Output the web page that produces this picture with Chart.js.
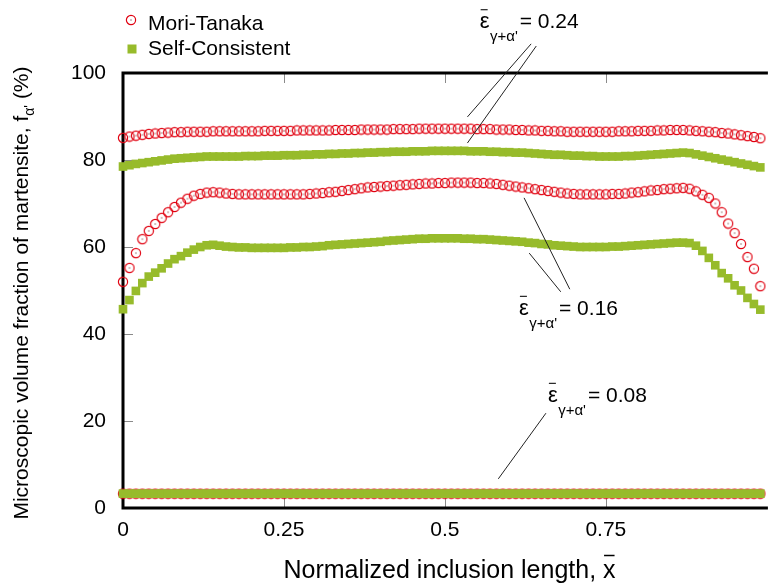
<!DOCTYPE html>
<html>
<head>
<meta charset="utf-8">
<script src="https://cdn.jsdelivr.net/npm/chart.js@4"></script>
<style>
html, body { margin: 0; padding: 0; background: #fff; overflow: hidden; }
canvas { display: block; }
</style>
</head>
<body>
<canvas id="grafica" width="769" height="587"></canvas>
<script>
// ===============================
// DATA
// ===============================
const xVals = [
  0.00, 0.01, 0.02, 0.03, 0.04, 0.05, 0.06, 0.07, 0.08, 0.09,
  0.10, 0.11, 0.12, 0.13, 0.14, 0.15, 0.16, 0.17, 0.18, 0.19,
  0.20, 0.21, 0.22, 0.23, 0.24, 0.25, 0.26, 0.27, 0.28, 0.29,
  0.30, 0.31, 0.32, 0.33, 0.34, 0.35, 0.36, 0.37, 0.38, 0.39,
  0.40, 0.41, 0.42, 0.43, 0.44, 0.45, 0.46, 0.47, 0.48, 0.49,
  0.50, 0.51, 0.52, 0.53, 0.54, 0.55, 0.56, 0.57, 0.58, 0.59,
  0.60, 0.61, 0.62, 0.63, 0.64, 0.65, 0.66, 0.67, 0.68, 0.69,
  0.70, 0.71, 0.72, 0.73, 0.74, 0.75, 0.76, 0.77, 0.78, 0.79,
  0.80, 0.81, 0.82, 0.83, 0.84, 0.85, 0.86, 0.87, 0.88, 0.89,
  0.90, 0.91, 0.92, 0.93, 0.94, 0.95, 0.96, 0.97, 0.98, 0.99
];

// Mori-Tanaka, eps = 0.24
const mt24 = [
  85.1, 85.4, 85.6, 85.8, 86.0, 86.1, 86.2, 86.3, 86.4, 86.4,
  86.5, 86.5, 86.5, 86.5, 86.6, 86.6, 86.6, 86.6, 86.6, 86.6,
  86.6, 86.6, 86.7, 86.7, 86.7, 86.7, 86.7, 86.8, 86.8, 86.8,
  86.8, 86.8, 86.8, 86.9, 86.9, 86.9, 86.9, 87.0, 87.0, 87.0,
  87.0, 87.0, 87.1, 87.1, 87.1, 87.1, 87.2, 87.2, 87.2, 87.2,
  87.2, 87.2, 87.2, 87.2, 87.2, 87.1, 87.1, 87.1, 87.0, 87.0,
  87.0, 86.9, 86.9, 86.8, 86.8, 86.7, 86.7, 86.6, 86.6, 86.5,
  86.5, 86.5, 86.5, 86.5, 86.5, 86.5, 86.5, 86.6, 86.6, 86.6,
  86.7, 86.7, 86.7, 86.8, 86.8, 86.9, 86.9, 86.9, 86.8, 86.7,
  86.6, 86.5, 86.4, 86.2, 86.1, 85.9, 85.7, 85.5, 85.3, 85.0
];
// Mori-Tanaka, eps = 0.16
const mt16 = [
  52.0, 55.2, 58.6, 61.8, 63.7, 65.3, 66.7, 68.0, 69.2, 70.2,
  71.1, 71.8, 72.2, 72.5, 72.6, 72.5, 72.3, 72.2, 72.1, 72.1,
  72.1, 72.1, 72.1, 72.1, 72.1, 72.1, 72.1, 72.1, 72.1, 72.2,
  72.3, 72.4, 72.6, 72.7, 72.9, 73.1, 73.3, 73.5, 73.7, 73.8,
  73.9, 74.0, 74.1, 74.2, 74.3, 74.4, 74.5, 74.6, 74.6, 74.7,
  74.7, 74.8, 74.8, 74.8, 74.8, 74.7, 74.7, 74.6, 74.5, 74.3,
  74.1, 73.9, 73.7, 73.5, 73.3, 73.1, 72.9, 72.7, 72.5, 72.3,
  72.2, 72.1, 72.1, 72.1, 72.1, 72.1, 72.2, 72.2, 72.3, 72.5,
  72.6, 72.8, 73.0, 73.1, 73.3, 73.4, 73.5, 73.6, 73.4, 72.8,
  72.0, 71.3, 70.0, 68.0, 65.4, 63.2, 60.7, 57.7, 55.0, 51.0
];
// Mori-Tanaka, eps = 0.08
const mt08 = [
  3.3, 3.3, 3.3, 3.3, 3.3, 3.3, 3.3, 3.3, 3.3, 3.3,
  3.3, 3.3, 3.3, 3.3, 3.3, 3.3, 3.3, 3.3, 3.3, 3.3,
  3.3, 3.3, 3.3, 3.3, 3.3, 3.3, 3.3, 3.3, 3.3, 3.3,
  3.3, 3.3, 3.3, 3.3, 3.3, 3.3, 3.3, 3.3, 3.3, 3.3,
  3.3, 3.3, 3.3, 3.3, 3.3, 3.3, 3.3, 3.3, 3.3, 3.3,
  3.3, 3.3, 3.3, 3.3, 3.3, 3.3, 3.3, 3.3, 3.3, 3.3,
  3.3, 3.3, 3.3, 3.3, 3.3, 3.3, 3.3, 3.3, 3.3, 3.3,
  3.3, 3.3, 3.3, 3.3, 3.3, 3.3, 3.3, 3.3, 3.3, 3.3,
  3.3, 3.3, 3.3, 3.3, 3.3, 3.3, 3.3, 3.3, 3.3, 3.3,
  3.3, 3.3, 3.3, 3.3, 3.3, 3.3, 3.3, 3.3, 3.3, 3.3
];

// Self-Consistent, eps = 0.24
const sc24 = [
  78.5, 78.8, 79.1, 79.3, 79.5, 79.7, 79.9, 80.1, 80.3, 80.4,
  80.5, 80.6, 80.7, 80.8, 80.8, 80.8, 80.8, 80.8, 80.8, 80.9,
  80.9, 80.9, 81.0, 81.0, 81.0, 81.1, 81.1, 81.1, 81.2, 81.2,
  81.3, 81.3, 81.4, 81.4, 81.5, 81.5, 81.6, 81.6, 81.7, 81.7,
  81.8, 81.8, 81.9, 81.9, 81.9, 82.0, 82.0, 82.0, 82.1, 82.1,
  82.1, 82.1, 82.1, 82.1, 82.0, 82.0, 82.0, 81.9, 81.9, 81.8,
  81.8, 81.7, 81.7, 81.6, 81.5, 81.4, 81.3, 81.2, 81.2, 81.1,
  81.0, 81.0, 80.9, 80.9, 80.8, 80.8, 80.8, 80.8, 80.9, 80.9,
  81.0, 81.1, 81.2, 81.3, 81.4, 81.5, 81.6, 81.7, 81.6, 81.3,
  81.0, 80.7, 80.4, 80.1, 79.8, 79.5, 79.2, 78.9, 78.6, 78.3
];
// Self-Consistent, eps = 0.16
const sc16 = [
  45.7, 47.8, 49.9, 51.7, 53.2, 54.1, 55.1, 56.2, 57.2, 57.9,
  58.7, 59.4, 60.0, 60.4, 60.5, 60.3, 60.1, 60.0, 59.9, 59.9,
  59.8, 59.8, 59.8, 59.8, 59.8, 59.8, 59.9, 59.9, 60.0, 60.0,
  60.1, 60.2, 60.4, 60.5, 60.6, 60.7, 60.8, 60.9, 61.0, 61.1,
  61.2, 61.4, 61.5, 61.6, 61.7, 61.8, 61.9, 61.9, 62.0, 62.0,
  62.0, 62.0, 62.0, 61.9, 61.9, 61.8, 61.8, 61.7, 61.6, 61.5,
  61.4, 61.3, 61.2, 61.0, 60.9, 60.7, 60.6, 60.4, 60.3, 60.2,
  60.1, 60.0, 60.0, 60.0, 60.0, 60.0, 60.1, 60.1, 60.2, 60.3,
  60.4, 60.5, 60.6, 60.7, 60.8, 60.9, 61.0, 61.0, 60.9, 60.3,
  59.1, 57.5, 55.8, 54.0, 52.8, 51.2, 50.0, 48.3, 46.9, 45.6
];
// Self-Consistent, eps = 0.08
const sc08 = [
  3.3, 3.3, 3.3, 3.3, 3.3, 3.3, 3.3, 3.3, 3.3, 3.3,
  3.3, 3.3, 3.3, 3.3, 3.3, 3.3, 3.3, 3.3, 3.3, 3.3,
  3.3, 3.3, 3.3, 3.3, 3.3, 3.3, 3.3, 3.3, 3.3, 3.3,
  3.3, 3.3, 3.3, 3.3, 3.3, 3.3, 3.3, 3.3, 3.3, 3.3,
  3.3, 3.3, 3.3, 3.3, 3.3, 3.3, 3.3, 3.3, 3.3, 3.3,
  3.3, 3.3, 3.3, 3.3, 3.3, 3.3, 3.3, 3.3, 3.3, 3.3,
  3.3, 3.3, 3.3, 3.3, 3.3, 3.3, 3.3, 3.3, 3.3, 3.3,
  3.3, 3.3, 3.3, 3.3, 3.3, 3.3, 3.3, 3.3, 3.3, 3.3,
  3.3, 3.3, 3.3, 3.3, 3.3, 3.3, 3.3, 3.3, 3.3, 3.3,
  3.3, 3.3, 3.3, 3.3, 3.3, 3.3, 3.3, 3.3, 3.3, 3.3
];

const seriesNames = ["Mori-Tanaka", "Self-Consistent"];
const xTickVals = [0, 0.25, 0.5, 0.75, 1];
const yTickVals = [0, 20, 40, 60, 80, 100];
const xMax = 0.994;

// strain labels (anchor in data units) and leader lines [x1, y1, x2, y2]
const strainLabels = [
  { x: 0.554, y: 110.3, text: "= 0.24" },
  { x: 0.615, y: 44.4, text: "= 0.16" },
  { x: 0.660, y: 24.4, text: "= 0.08" }
];
const leaderLines = [
  [0.634, 106.7, 0.535, 89.9],
  [0.642, 106.2, 0.535, 83.9],
  [0.631, 58.6, 0.680, 49.7],
  [0.623, 71.3, 0.694, 50.3],
  [0.657, 21.8, 0.583, 6.7]
];

// ===============================
// STYLE
// ===============================
const RED = "#e00010";
const GREEN = "#97bb2b";
const FONT = "'Liberation Sans', Arial, sans-serif";

function circleMark() {
  const c = document.createElement("canvas");
  c.width = 12; c.height = 12;
  const g = c.getContext("2d");
  g.strokeStyle = RED;
  g.lineWidth = 1.2;
  g.beginPath();
  g.arc(6, 6, 4.6, 0, Math.PI * 2);
  g.stroke();
  g.fillStyle = "#500";
  g.fillRect(5.5, 5.5, 1, 1);
  return c;
}
const redMark = circleMark();

const pts = ys => xVals.map((x, i) => ({ x, y: ys[i] }));

function redSet(ys) {
  return { label: seriesNames[0], data: pts(ys), showLine: false, pointStyle: redMark,
    pointRadius: 5, borderWidth: 0, order: 2, clip: false };
}
function greenSet(ys) {
  return { label: seriesNames[1], data: pts(ys), showLine: false, pointStyle: "rect",
    pointRadius: 6.1, pointBorderWidth: 0, borderWidth: 0,
    backgroundColor: GREEN, pointBackgroundColor: GREEN, order: 1, clip: false };
}

// ===============================
// PLUGIN: frame, inner ticks, titles, legend, labels
// ===============================
const decor = {
  id: "decor",
  beforeDatasetsDraw(chart) {
    const { ctx, chartArea: a, scales: { x, y } } = chart;
    ctx.save();
    ctx.strokeStyle = "#8a8a8a";
    ctx.lineWidth = 1;
    ctx.beginPath();
    yTickVals.slice(1, -1).forEach(v => {
      const py = Math.round(y.getPixelForValue(v)) + 0.5;
      ctx.moveTo(a.left, py); ctx.lineTo(a.left + 10, py);
    });
    xTickVals.filter(v => v > 0 && v < xMax).forEach(v => {
      const px = Math.round(x.getPixelForValue(v)) + 0.5;
      ctx.moveTo(px, a.bottom); ctx.lineTo(px, a.bottom - 10);
      ctx.moveTo(px, a.top); ctx.lineTo(px, a.top + 10);
    });
    ctx.stroke();

    ctx.strokeStyle = "#000";
    ctx.lineWidth = 3;
    ctx.beginPath();
    ctx.moveTo(a.right + 5, a.top);
    ctx.lineTo(a.left, a.top);
    ctx.lineTo(a.left, a.bottom);
    ctx.lineTo(a.right + 5, a.bottom);
    ctx.stroke();
    ctx.restore();
  },
  afterDraw(chart) {
    const { ctx, chartArea: a, scales: { x, y } } = chart;
    ctx.save();
    ctx.fillStyle = "#000";
    ctx.textAlign = "left";
    ctx.textBaseline = "alphabetic";

    // legend
    ctx.drawImage(redMark, 131 - 6, 20 - 6);
    ctx.fillStyle = GREEN;
    ctx.fillRect(127.5, 44.5, 9, 9);
    ctx.fillStyle = "#000";
    ctx.font = "21px " + FONT;
    ctx.fillText(seriesNames[0], 148, 30);
    ctx.fillText(seriesNames[1], 148, 55);

    // x title with overbar
    ctx.font = "25px " + FONT;
    const xt = "Normalized inclusion length, x";
    const wx = ctx.measureText(xt).width;
    const x0 = 449.5 - wx / 2;
    ctx.fillText(xt, x0, 578);
    const wLast = ctx.measureText("x").width;
    ctx.strokeStyle = "#000";
    ctx.lineWidth = 1.5;
    ctx.beginPath();
    ctx.moveTo(x0 + wx - wLast + 1, 555.5);
    ctx.lineTo(x0 + wx - 1, 555.5);
    ctx.stroke();

    // y title with subscript
    ctx.save();
    ctx.translate(28, 293);
    ctx.rotate(-Math.PI / 2);
    const p1 = "Microscopic volume fraction of martensite, f";
    const p2 = "\u03b1'";
    const p3 = " (%)";
    ctx.font = "21px " + FONT;
    const w1 = ctx.measureText(p1).width, w3 = ctx.measureText(p3).width;
    ctx.font = "14px " + FONT;
    const w2 = ctx.measureText(p2).width;
    let cx = -(w1 + w2 + w3) / 2;
    ctx.font = "21px " + FONT;
    ctx.fillText(p1, cx, 0); cx += w1;
    ctx.font = "14px " + FONT;
    ctx.fillText(p2, cx, 6); cx += w2;
    ctx.font = "21px " + FONT;
    ctx.fillText(p3, cx, 0);
    ctx.restore();

    // leader lines
    ctx.strokeStyle = "#222";
    ctx.lineWidth = 1;
    ctx.beginPath();
    leaderLines.forEach(l => {
      ctx.moveTo(x.getPixelForValue(l[0]), y.getPixelForValue(l[1]));
      ctx.lineTo(x.getPixelForValue(l[2]), y.getPixelForValue(l[3]));
    });
    ctx.stroke();

    // strain labels
    strainLabels.forEach(s => {
      const px = x.getPixelForValue(s.x), py = y.getPixelForValue(s.y);
      ctx.font = "22px " + FONT;
      const we = ctx.measureText("\u03b5").width;
      ctx.fillText("\u03b5", px, py);
      ctx.lineWidth = 1.2;
      ctx.beginPath();
      ctx.moveTo(px + 1, py - 18.5);
      ctx.lineTo(px + 8, py - 18.5);
      ctx.stroke();
      ctx.font = "15px " + FONT;
      const sub = "\u03b3+\u03b1'";
      ctx.fillText(sub, px + we + 0.5, py + 13);
      const ws = ctx.measureText(sub).width;
      ctx.font = "21px " + FONT;
      ctx.fillText(s.text, px + we + ws + 2.5, py);
    });
    ctx.restore();
  }
};

// ===============================
// CHART
// ===============================
const ctx = document.getElementById("grafica").getContext("2d");

new Chart(ctx, {
  type: "scatter",
  data: {
    datasets: [
      redSet(mt24), redSet(mt16), redSet(mt08),
      greenSet(sc24), greenSet(sc16), greenSet(sc08)
    ]
  },
  options: {
    responsive: false,
    animation: false,
    layout: { padding: { top: 73, right: 0, bottom: 0, left: 0 } },
    plugins: { legend: { display: false }, tooltip: { enabled: false } },
    scales: {
      x: {
        type: "linear", min: 0, max: xMax,
        afterFit: s => { s.height = 79; },
        afterBuildTicks: s => { s.ticks = xTickVals.filter(v => v <= xMax).map(v => ({ value: v })); },
        grid: { display: false, drawTicks: false },
        border: { display: false },
        ticks: { padding: 10, color: "#000", font: { family: FONT, size: 21 }, callback: v => String(v), autoSkip: false, maxRotation: 0 }
      },
      y: {
        type: "linear", min: 0, max: 100,
        afterFit: s => { s.width = 123; },
        afterBuildTicks: s => { s.ticks = yTickVals.map(v => ({ value: v })); },
        grid: { display: false, drawTicks: false },
        border: { display: false },
        ticks: { padding: 17, color: "#000", font: { family: FONT, size: 21 }, callback: v => String(v) }
      }
    }
  },
  plugins: [decor]
});
</script>
</body>
</html>
